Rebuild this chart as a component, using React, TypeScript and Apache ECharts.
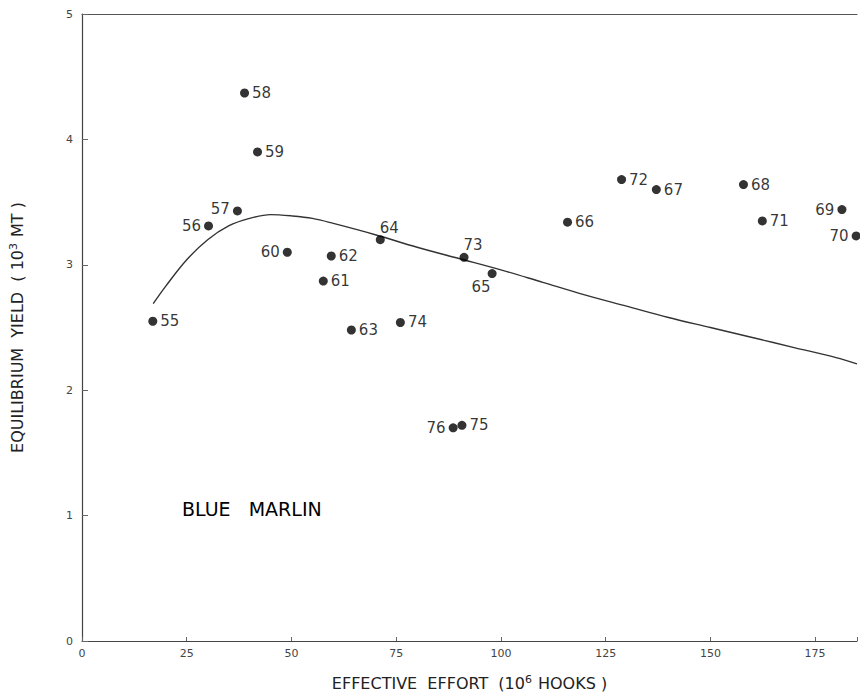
import React, { useEffect, useRef } from "react";
import * as echarts from "echarts";

// Yearly points: effort (10^6 hooks), yield (10^3 MT), year label
const years = ["55", "56", "57", "58", "59", "60", "61", "62", "63", "64", "65", "66", "67", "68", "69", "70", "71", "72", "73", "74", "75", "76"];
const effort = [16.9, 30.2, 37.1, 38.8, 41.9, 49.0, 57.6, 59.5, 64.3, 71.2, 97.9, 115.9, 137.1, 157.9, 181.4, 184.8, 162.4, 128.8, 91.2, 76.0, 90.7, 88.6];
const yieldValues = [2.55, 3.31, 3.43, 4.37, 3.90, 3.10, 2.87, 3.07, 2.48, 3.20, 2.93, 3.34, 3.60, 3.64, 3.44, 3.23, 3.35, 3.68, 3.06, 2.54, 1.72, 1.70];
const labelSide = ["right", "left", "left", "right", "right", "left", "right", "right", "right", "top", "bottomLeft", "right", "right", "right", "left", "left", "right", "right", "top", "right", "right", "left"];

// Equilibrium curve
const curveX = [17, 20, 25, 30, 35, 40, 45, 50, 55, 60, 70, 80, 90, 100, 110, 120, 130, 140, 150, 160, 170, 180, 185];
const curveY = [2.69, 2.83, 3.04, 3.20, 3.31, 3.37, 3.40, 3.39, 3.37, 3.33, 3.24, 3.14, 3.05, 2.96, 2.86, 2.76, 2.67, 2.58, 2.50, 2.42, 2.34, 2.26, 2.21];

const xTicks = [0, 25, 50, 75, 100, 125, 150, 175];
const yTicks = [0, 1, 2, 3, 4, 5];

const FONT = "DejaVu Sans";

const nameRich = {
  a: { fontFamily: FONT, fontSize: 16, color: "#222" },
  s: { fontFamily: FONT, fontSize: 11, color: "#222", padding: [0, 6, 7, 0] },
};

export default function App() {
  const ref = useRef<HTMLDivElement>(null);
  useEffect(() => {
    if (!ref.current) return;
    const chart = echarts.init(ref.current, undefined, { renderer: "svg" });
    const pointData = years.map((y, i) => {
      const side = labelSide[i];
      let label: any = { position: "right", distance: 3 };
      if (side === "left") label = { position: "left", distance: 3 };
      if (side === "top") label = { position: "top", distance: 2, offset: [9, 2] };
      if (side === "bottomLeft") label = { position: "bottom", distance: 1, offset: [-11, 0] };
      if (years[i] === "57") label = { position: "left", distance: 3, offset: [0, -2] };
      return { value: [effort[i], yieldValues[i], y], label };
    });
    chart.setOption({
      animation: false,
      backgroundColor: "#ffffff",
      grid: { left: 79, right: 0, top: 14, bottom: 52, containLabel: false },
      xAxis: [
        {
          type: "value",
          min: 0,
          max: 185,
          interval: 25,
          name: "{a|EFFECTIVE  EFFORT  (10}{s|6}{a|HOOKS )}",
          nameLocation: "middle",
          nameGap: 33,
          nameTextStyle: { fontFamily: FONT, fontSize: 16, color: "#222", rich: nameRich },
          axisLine: { show: true, lineStyle: { color: "#444", width: 1.2 } },
          axisTick: { show: true, inside: true, length: 4, lineStyle: { color: "#666" } },
          axisLabel: {
            fontFamily: FONT,
            fontSize: 11,
            color: "#444",
            margin: 7,
            formatter: (v: number) => (xTicks.includes(v) ? String(v) : ""),
          },
          splitLine: { show: false },
        },
        {
          type: "value",
          position: "top",
          min: 0,
          max: 185,
          axisLine: { show: true, lineStyle: { color: "#555", width: 1.2 } },
          axisTick: { show: false },
          axisLabel: { show: false },
          splitLine: { show: false },
        },
      ],
      yAxis: {
        type: "value",
        min: 0,
        max: 5,
        interval: 1,
        name: "{a|EQUILIBRIUM  YIELD  ( 10}{s|3}{a|MT )}",
        nameLocation: "middle",
        nameGap: 56,
        nameRotate: 90,
        nameTextStyle: { fontFamily: FONT, fontSize: 16, color: "#222", rich: nameRich },
        axisLine: { show: true, lineStyle: { color: "#444", width: 1.2 } },
        axisTick: { show: true, inside: true, length: 6, lineStyle: { color: "#666" } },
        axisLabel: {
          fontFamily: FONT,
          fontSize: 11,
          color: "#444",
          margin: 9,
          formatter: (v: number) => (yTicks.includes(v) ? String(v) : ""),
        },
        splitLine: { show: false },
      },
      series: [
        {
          type: "line",
          xAxisIndex: 0,
          data: curveX.map((x, i) => [x, curveY[i]]),
          smooth: 0.35,
          showSymbol: false,
          symbol: "none",
          lineStyle: { color: "#333", width: 1.4 },
          silent: true,
          z: 2,
        },
        {
          type: "scatter",
          xAxisIndex: 0,
          data: pointData,
          symbol: "circle",
          symbolSize: 9,
          clip: false,
          itemStyle: { color: "#000" },
          label: {
            show: true,
            formatter: (p: any) => p.value[2],
            fontFamily: FONT,
            fontSize: 15,
            color: "#000",
          },
          z: 3,
        },
      ],
      graphic: [
        {
          type: "text",
          left: 182,
          top: 499,
          style: {
            text: "BLUE   MARLIN",
            fontFamily: FONT,
            fontSize: 19,
            fill: "#000",
          },
        },
      ],
    });
    return () => chart.dispose();
  }, []);
  return (
    <div
      ref={ref}
      style={{ position: "absolute", left: 0, top: 0, width: 860, height: 696 }}
    />
  );
}
